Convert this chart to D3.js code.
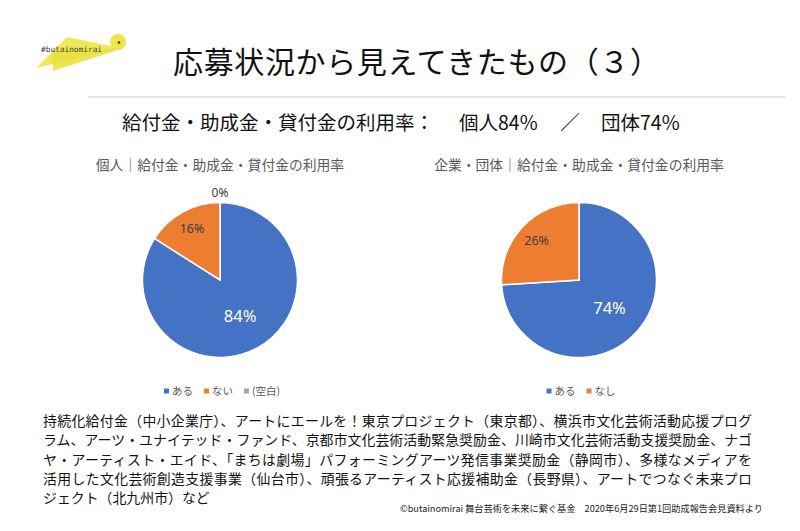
<!DOCTYPE html>
<html><head><meta charset="utf-8">
<script src="https://cdn.jsdelivr.net/npm/d3@7"></script>
<style>
html,body{margin:0;padding:0;background:#fff;}
svg{display:block;}
text{font-family:"Noto Sans CJK JP","Noto Sans",sans-serif;}
</style></head>
<body>
<svg id="c" width="800" height="531"></svg>
<script>
const mainTitle = "応募状況から見えてきたもの（３）";
const subtitleParts = ["給付金・助成金・貸付金の利用率：", "個人84%", "／", "団体74%"];
const personalTitle = "個人｜給付金・助成金・貸付金の利用率";
const groupTitle = "企業・団体｜給付金・助成金・貸付金の利用率";
const personalCategories = ["ある", "ない", "(空白)"];
const personalValues = [84, 16, 0];
const groupCategories = ["ある", "なし"];
const groupValues = [74, 26];
const sliceColors = ["#4472C4", "#ED7D31", "#A5A5A5"];
const noteLines = [
  "持続化給付金（中小企業庁）、アートにエールを！東京プロジェクト（東京都）、横浜市文化芸術活動応援プログ",
  "ラム、アーツ・ユナイテッド・ファンド、京都市文化芸術活動緊急奨励金、川崎市文化芸術活動支援奨励金、ナゴ",
  "ヤ・アーティスト・エイド、「まちは劇場」パフォーミングアーツ発信事業奨励金（静岡市）、多様なメディアを",
  "活用した文化芸術創造支援事業（仙台市）、頑張るアーティスト応援補助金（長野県）、アートでつなぐ未来プロ",
  "ジェクト（北九州市）など"
];
const credit = "©butainomirai 舞台芸術を未来に繋ぐ基金　2020年6月29日第1回助成報告会見資料より";
const logoText = "#butainomirai";

const svg = d3.select("#c");

// logo
const logo = svg.append("g");
logo.append("path").attr("d", "M36,68 L67,37 L121,48 Z").attr("fill", "#EEE547").attr("opacity", 0.9);
logo.append("path").attr("d", "M53,71 L52,50 L121,49 Z").attr("fill", "#E8DF3C").attr("opacity", 0.85);
logo.append("circle").attr("cx", 118).attr("cy", 42).attr("r", 8).attr("fill", "#EEE547");
logo.append("circle").attr("cx", 119).attr("cy", 42.5).attr("r", 1.3).attr("fill", "#333");
logo.append("text").attr("x", 41).attr("y", 51.5).text(logoText)
  .style("font-family", "'DejaVu Sans Mono','Liberation Mono',monospace").style("font-size", "7.8px").attr("fill", "#444");

// title
svg.append("text").attr("x", 173).attr("y", 73).attr("textLength", 487).attr("lengthAdjust", "spacing")
  .style("font-size", "30px").attr("fill", "#111").text(mainTitle);
svg.append("line").attr("x1", 88).attr("x2", 785).attr("y1", 97).attr("y2", 97)
  .attr("stroke", "#c8c8c8").attr("stroke-width", 1.2);

// subtitle
const subX = [122, 459, 570, 601];
const subAnchor = ["start", "start", "middle", "start"];
subtitleParts.forEach((t, i) => {
  svg.append("text").attr("x", subX[i]).attr("y", 129.5).attr("text-anchor", subAnchor[i])
    .style("font-size", "19.5px").attr("fill", "#111").text(t);
});

function drawPie(cx, cy, r, title, cats, vals) {
  const g = svg.append("g");
  g.append("text").attr("x", cx).attr("y", 169.5).attr("text-anchor", "middle")
    .style("font-size", "13.8px").attr("fill", "#595959").text(title);
  const pie = d3.pie().sort(null).value(d => d.v);
  const data = pie(cats.map((c, i) => ({c, v: vals[i], color: sliceColors[i]})));
  const arc = d3.arc().innerRadius(0).outerRadius(r);
  const pg = g.append("g").attr("transform", `translate(${cx},${cy})`);
  pg.selectAll("path").data(data.filter(d => d.data.v > 0)).join("path")
    .attr("d", arc).attr("fill", d => d.data.color)
    .attr("stroke", "#fff").attr("stroke-width", 1.5);
  data.forEach(d => {
    let x, y, fs, col;
    if (d.data.v === 0) {
      const la = d3.arc().innerRadius(r + 10).outerRadius(r + 10);
      [x, y] = la.centroid(d);
      fs = 12; col = "#404040";
    } else if (d.data.v > 50) {
      const la = d3.arc().innerRadius(r * 0.54).outerRadius(r * 0.54);
      [x, y] = la.centroid(d);
      fs = 16.5; col = "#fff";
    } else {
      const la = d3.arc().innerRadius(r * 0.75).outerRadius(r * 0.75);
      [x, y] = la.centroid(d);
      fs = 12.5; col = "#404040";
    }
    pg.append("text").attr("x", x).attr("y", y).attr("dy", "0.35em")
      .attr("text-anchor", "middle").style("font-family", "'Noto Sans',sans-serif")
      .style("font-size", fs + "px").attr("fill", col).text(d.data.v + "%");
  });
  // legend
  const lg = g.append("g");
  let xx = 0;
  cats.forEach((c, i) => {
    const it = lg.append("g");
    it.append("rect").attr("x", 0).attr("y", -2.5).attr("width", 5).attr("height", 5).attr("fill", sliceColors[i]);
    const t = it.append("text").attr("x", 8).attr("y", 0).attr("dy", "0.35em")
      .style("font-size", "10.5px").attr("fill", "#595959").text(c);
    const w = 8 + t.node().getComputedTextLength();
    it.attr("transform", `translate(${xx},0)`);
    xx += w + 11;
  });
  const total = xx - 11;
  lg.attr("transform", `translate(${cx - total / 2 + 2},391)`);
}

drawPie(220, 280, 77.5, personalTitle, personalCategories, personalValues);
drawPie(579, 280, 77.5, groupTitle, groupCategories, groupValues);

// notes
const noteY = [425.5, 445, 464.5, 483.5, 503];
noteLines.forEach((t, i) => {
  const tx = svg.append("text").attr("x", 43).attr("y", noteY[i])
    .style("font-size", "13.9px").attr("fill", "#111").text(t);
  if (i < noteLines.length - 1) tx.attr("textLength", 709).attr("lengthAdjust", "spacing");
});
svg.append("text").attr("x", 763).attr("y", 512).attr("text-anchor", "end")
  .style("font-size", "9.2px").attr("fill", "#222").text(credit);
</script>
</body></html>
